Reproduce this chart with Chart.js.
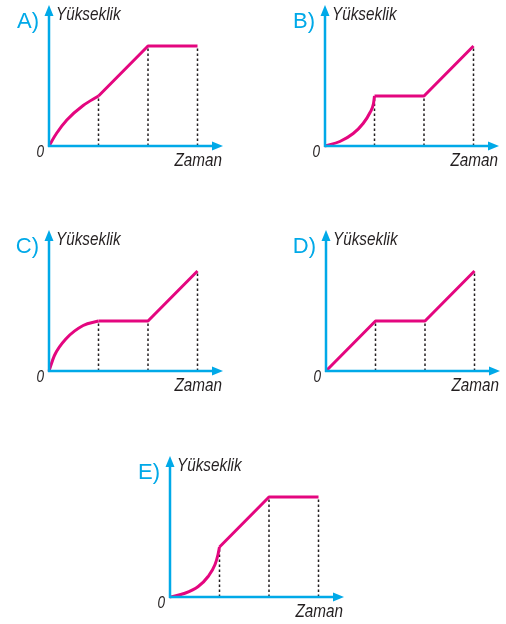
<!DOCTYPE html>
<html>
<head>
<meta charset="utf-8">
<script src="https://cdn.jsdelivr.net/npm/chart.js@4/dist/chart.umd.min.js"></script>
<style>
  body { margin: 0; background: #fff; width: 506px; height: 624px; overflow: hidden; position: relative; }
  canvas { position: absolute; }
</style>
</head>
<body>
<canvas id="chart-a" width="230" height="175" style="left:0px;top:0px"></canvas>
<canvas id="chart-b" width="230" height="175" style="left:276px;top:0px"></canvas>
<canvas id="chart-c" width="230" height="175" style="left:0px;top:225px"></canvas>
<canvas id="chart-d" width="230" height="175" style="left:277px;top:225px"></canvas>
<canvas id="chart-e" width="230" height="175" style="left:121px;top:451px"></canvas>
<script>
// time marks where the dotted drop lines stand
const dropTimes = [1, 2, 3];

// A) slowing curve, then straight rise, then flat
const curveA_t = [0, 0.15, 0.36, 0.69, 1];
const curveA_h = [0, 0.25, 0.52, 0.81, 1];
const lineA_t = [1, 2, 3];
const lineA_h = [1, 2, 2];

// B) speeding curve, flat, straight rise
const curveB_t = [0, 0.3, 0.57, 0.77, 0.91, 0.98, 1];
const curveB_h = [0, 0.09, 0.25, 0.45, 0.67, 0.85, 1];
const lineB_t = [1, 2, 3];
const lineB_h = [1, 1, 2];

// C) slowing curve (levels off), flat, straight rise
const curveC_t = [0, 0.11, 0.35, 0.69, 1];
const curveC_h = [0, 0.31, 0.65, 0.91, 1];
const lineC_t = [1, 2, 3];
const lineC_h = [1, 1, 2];

// D) straight rise, flat, straight rise
const curveD_t = [];
const curveD_h = [];
const lineD_t = [0, 1, 2, 3];
const lineD_h = [0, 1, 1, 2];

// E) speeding curve, straight rise, flat
const curveE_t = [0, 0.3, 0.57, 0.77, 0.91, 0.97, 1];
const curveE_h = [0, 0.075, 0.21, 0.41, 0.65, 0.85, 1];
const lineE_t = [1, 2, 3];
const lineE_h = [1, 2, 2];

const CYAN = '#00a9e8';
const MAGENTA = '#e4067f';
const INK = '#231f20';
const FONT = "'Liberation Sans', Arial, sans-serif";

function pts(ts, hs) {
  return ts.map((t, i) => ({ x: t, y: hs[i] }));
}

function heightAt(t, lineT, lineH) {
  const i = lineT.indexOf(t);
  return i >= 0 ? lineH[i] : 0;
}

// condensed-looking italic text: squeeze horizontally
function narrowText(ctx, text, x, y, size, align) {
  ctx.save();
  ctx.translate(x, y);
  ctx.scale(0.85, 1);
  ctx.font = 'italic ' + size + 'px ' + FONT;
  ctx.textAlign = align;
  ctx.fillText(text, 0, 0);
  ctx.restore();
}

// draws the arrowed axes and the labels
const axesPlugin = {
  id: 'axesPlugin',
  afterDatasetsDraw(chart) {
    const ctx = chart.ctx;
    const a = chart.chartArea;
    const ox = a.left, oy = a.bottom;
    const letter = chart.options.plugins.axesPlugin.letter;
    ctx.save();
    ctx.strokeStyle = CYAN;
    ctx.fillStyle = CYAN;
    ctx.lineWidth = 2.5;
    ctx.beginPath();
    ctx.moveTo(ox, oy + 1);
    ctx.lineTo(ox, oy - 132);
    ctx.moveTo(ox - 1, oy);
    ctx.lineTo(ox + 165, oy);
    ctx.stroke();
    // arrow heads
    ctx.beginPath();
    ctx.moveTo(ox, oy - 141);
    ctx.lineTo(ox - 4.5, oy - 130);
    ctx.lineTo(ox + 4.5, oy - 130);
    ctx.closePath();
    ctx.fill();
    ctx.beginPath();
    ctx.moveTo(ox + 174, oy);
    ctx.lineTo(ox + 163, oy - 4.5);
    ctx.lineTo(ox + 163, oy + 4.5);
    ctx.closePath();
    ctx.fill();

    // letter
    ctx.font = '22px ' + FONT;
    ctx.textAlign = 'right';
    ctx.textBaseline = 'alphabetic';
    ctx.fillText(letter + ')', ox - 10, oy - 118);

    ctx.fillStyle = INK;
    narrowText(ctx, 'Yükseklik', ox + 7, oy - 126, 18, 'left');
    narrowText(ctx, '0', ox - 5, oy + 11, 16, 'right');
    narrowText(ctx, 'Zaman', ox + 173, oy + 20, 18, 'right');
    ctx.restore();
  }
};

function makeChart(id, letter, curveT, curveH, lineT, lineH) {
  const datasets = [];
  if (curveT.length) {
    datasets.push({
      data: pts(curveT, curveH),
      borderColor: MAGENTA,
      borderWidth: 3,
      cubicInterpolationMode: 'monotone',
      pointRadius: 0,
      clip: false,
      order: 0
    });
  }
  datasets.push({
    data: pts(lineT, lineH),
    borderColor: MAGENTA,
    borderWidth: 3,
    tension: 0,
    pointRadius: 0,
    borderJoinStyle: 'round',
    clip: false,
    order: 0
  });
  dropTimes.forEach(t => {
    datasets.push({
      data: [{ x: t, y: 0 }, { x: t, y: heightAt(t, lineT, lineH) }],
      borderColor: INK,
      borderWidth: 1.5,
      borderDash: [2.5, 2.5],
      pointRadius: 0,
      clip: false,
      order: 1
    });
  });

  return new Chart(document.getElementById(id), {
    type: 'line',
    data: { datasets: datasets },
    options: {
      responsive: false,
      animation: false,
      events: [],
      layout: { padding: { left: 49, right: 32.5, top: 46, bottom: 29 } },
      scales: {
        x: { type: 'linear', min: 0, max: 3, display: false },
        y: { type: 'linear', min: 0, max: 2, display: false }
      },
      plugins: {
        legend: { display: false },
        tooltip: { enabled: false },
        axesPlugin: { letter: letter }
      }
    },
    plugins: [axesPlugin]
  });
}

makeChart('chart-a', 'A', curveA_t, curveA_h, lineA_t, lineA_h);
makeChart('chart-b', 'B', curveB_t, curveB_h, lineB_t, lineB_h);
makeChart('chart-c', 'C', curveC_t, curveC_h, lineC_t, lineC_h);
makeChart('chart-d', 'D', curveD_t, curveD_h, lineD_t, lineD_h);
makeChart('chart-e', 'E', curveE_t, curveE_h, lineE_t, lineE_h);
</script>
</body>
</html>
